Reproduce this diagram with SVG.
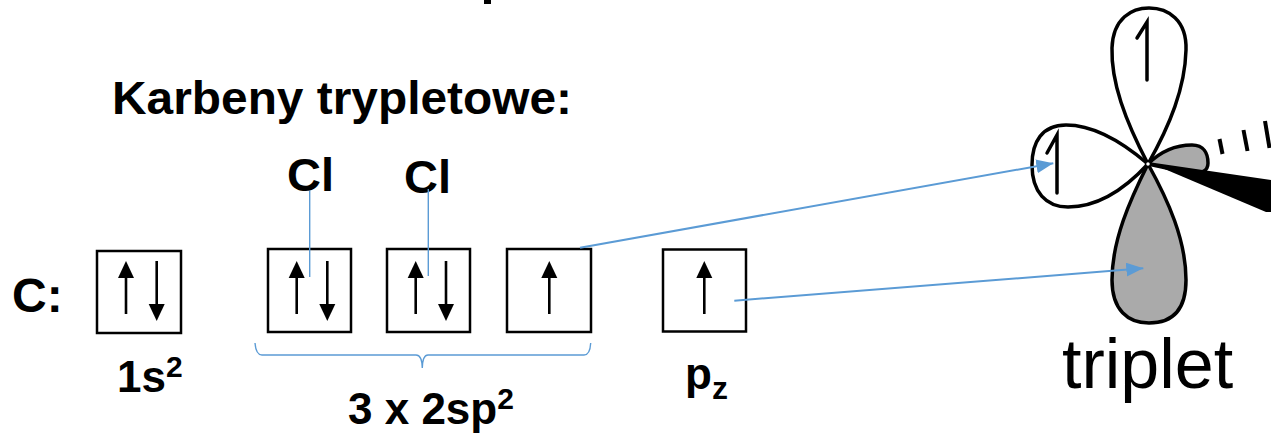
<svg xmlns="http://www.w3.org/2000/svg" width="1271" height="435" viewBox="0 0 1271 435">
  <style>
    .t { font-family: "Liberation Sans", Arial, sans-serif; font-weight: bold; fill: #000; }
    .box { fill: #fff; stroke: #000; stroke-width: 2.5; }
    .spin { stroke: #000; stroke-width: 2.6; fill: none; }
    .head { fill: #000; }
    .blue { stroke: #5b9bd5; stroke-width: 2; fill: none; }
    .thin { stroke: #5b9bd5; stroke-width: 1.4; fill: none; }
    .lobe { stroke: #000; stroke-width: 3.5; stroke-linejoin: round; }
    .harpoon { stroke: #000; stroke-width: 3.5; fill: none; stroke-linecap: round; }
  </style>
  <defs>
    <marker id="bluehead" markerUnits="userSpaceOnUse" markerWidth="18" markerHeight="14" refX="17" refY="7" orient="auto">
      <path d="M0,0 L17,7 L0,14 Z" fill="#5b9bd5"/>
    </marker>
    <g id="up">
      <line class="spin" x1="0" y1="314" x2="0" y2="274"/>
      <path class="head" d="M-8,278 L8,278 L0,261 Z"/>
    </g>
    <g id="down">
      <line class="spin" x1="0" y1="261" x2="0" y2="306"/>
      <path class="head" d="M-8,304 L8,304 L0,321 Z"/>
    </g>
  </defs>

  <rect x="484" y="0" width="7" height="4" fill="#000"/>

  <text class="t" x="112" y="114" font-size="46" textLength="460" lengthAdjust="spacingAndGlyphs">Karbeny trypletowe:</text>

  <text class="t" x="12" y="312" font-size="48">C:</text>

  <!-- 1s orbital -->
  <g id="orb-1s">
    <rect class="box" x="97" y="251" width="84" height="82"/>
    <use href="#up" x="126"/>
    <use href="#down" x="156.7"/>
  </g>

  <!-- three sp2 orbitals -->
  <g id="orb-sp2-a">
    <rect class="box" x="268" y="249" width="83" height="83"/>
    <use href="#up" x="296.7"/>
    <use href="#down" x="327.3"/>
  </g>
  <g id="orb-sp2-b">
    <rect class="box" x="387" y="249" width="83" height="83"/>
    <use href="#up" x="415.7"/>
    <use href="#down" x="446"/>
  </g>
  <g id="orb-sp2-c">
    <rect class="box" x="507" y="249" width="84" height="83"/>
    <use href="#up" x="549.3"/>
  </g>

  <!-- pz orbital -->
  <g id="orb-pz">
    <rect class="box" x="663" y="249.5" width="83" height="82"/>
    <use href="#up" x="704.3"/>
  </g>

  <g id="cl-a"><text class="t" x="287" y="191" font-size="47">Cl</text></g>
  <g id="cl-b"><text class="t" x="404" y="193" font-size="47">Cl</text></g>

  <g id="label-1s"><text class="t" x="117" y="392" font-size="44">1s<tspan font-size="30" dy="-15">2</tspan></text></g>
  <g id="label-sp2"><text class="t" x="348" y="424" font-size="44">3 x 2sp<tspan font-size="30" dy="-15">2</tspan></text></g>
  <g id="label-pz"><text class="t" x="685" y="389" font-size="44">p<tspan font-size="32" dy="10">z</tspan></text></g>

  <!-- triplet carbene orbital picture -->
  <g id="triplet">
    <path class="lobe" fill="#aaaaaa" d="M1148,164 C1160,152 1175,145 1192,145 C1204,145 1208,154 1208,163 C1208,171 1202,174 1190,173 Z"/>
    <path fill="#000" d="M1148,162 L1271,180 L1271,212 L1266,212 Z"/>
    <g stroke="#000" stroke-width="4" stroke-linecap="butt">
      <line x1="1219.5" y1="139" x2="1222.5" y2="154"/>
      <line x1="1243.5" y1="130" x2="1247.5" y2="151"/>
      <line x1="1265" y1="121" x2="1269.5" y2="148"/>
    </g>
    <path class="lobe" fill="#aaaaaa" d="M1148,164 C1130,200 1112,240 1112,280 C1112,310 1128,323 1149,323 C1172,323 1186,310 1186,280 C1186,240 1168,200 1148,164 Z"/>
    <path class="lobe" fill="#fff" d="M1148,164 C1125,120 1111,82 1112,48 C1113,18 1132,8 1149,8 C1168,8 1187,20 1186,50 C1185,88 1170,125 1148,164 Z"/>
    <path class="lobe" fill="#fff" d="M1148,164 C1120,140 1092,125 1066,125 C1042,125 1032,142 1032,165 C1032,192 1046,207 1068,207 C1096,207 1124,190 1148,164 Z"/>
    <circle cx="1148" cy="164" r="2.5" fill="#fff" stroke="#000" stroke-width="1.5"/>
    <path class="harpoon" d="M1147,80 L1147,22 L1137,38"/>
    <path class="harpoon" d="M1057,193 L1057,135 L1047,153"/>
    <text x="1062" y="388" font-family="Liberation Sans, Arial, sans-serif" font-size="70" fill="#000">triplet</text>
  </g>

  <!-- connectors -->
  <g id="connectors">
    <line class="thin" x1="309.7" y1="191" x2="309.7" y2="277"/>
    <line class="thin" x1="428.3" y1="189" x2="428.3" y2="276"/>
    <path class="thin" d="M255,343 Q256,355 262,355 L416,355 Q422,355 422.3,368 Q422.6,355 428,355 L584,355 Q590,355 590.7,343"/>
    <line class="blue" x1="580" y1="247.7" x2="1053.3" y2="163.3" marker-end="url(#bluehead)"/>
    <line class="blue" x1="734.3" y1="300.7" x2="1143.3" y2="268.3" marker-end="url(#bluehead)"/>
  </g>
</svg>
